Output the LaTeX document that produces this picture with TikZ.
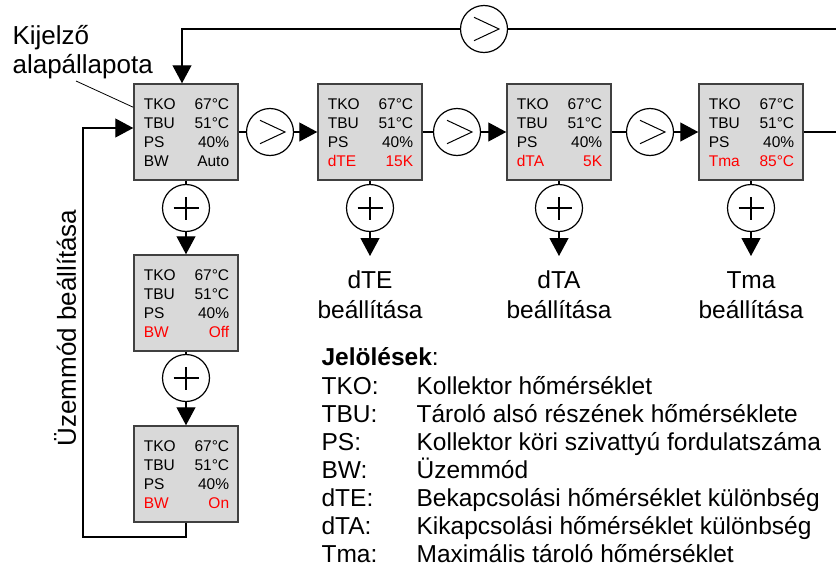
\documentclass[tikz,border=0pt]{standalone}
\usepackage{fontspec}
\setmainfont{Liberation Sans}
\usetikzlibrary{arrows.meta,calc}
\definecolor{boxgray}{HTML}{D9D9D9}
\definecolor{boxedge}{HTML}{404040}
\newcommand\dispbox[6]{%
  \node[dbox] (#1) at (#2,#3) {};
  \node[bt, anchor=base west] (#1-a) at ($(#1.north west)+(10,26)$) {TKO};
  \node[bt, anchor=base east] (#1-b) at ($(#1.north east)+(-9,26)$) {67°C};
  \node[bt, anchor=base west] (#1-c) at ($(#1.north west)+(10,45)$) {TBU};
  \node[bt, anchor=base east] (#1-d) at ($(#1.north east)+(-9,45)$) {51°C};
  \node[bt, anchor=base west] (#1-e) at ($(#1.north west)+(10,64)$) {PS};
  \node[bt, anchor=base east] (#1-f) at ($(#1.north east)+(-9,64)$) {40\%};
  \node[bt, anchor=base west, text=#6] (#1-g) at ($(#1.north west)+(10,83)$) {#4};
  \node[bt, anchor=base east, text=#6] (#1-h) at ($(#1.north east)+(-9,83)$) {#5};
}
\begin{document}
\begin{tikzpicture}[x=1pt,y=-1pt,
  line width=1.2pt,
  tri/.style={-{Triangle[length=18pt,width=19pt]}},
  dbox/.style={draw=boxedge, line width=1.5pt, fill=boxgray, minimum width=104pt, minimum height=96pt, inner sep=0pt},
  gt/.style={circle, draw, fill=white, minimum size=47pt, inner sep=0pt,
    path picture={\draw[line width=1pt] ([shift={(-10pt,11.7pt)}]path picture bounding box.center) -- ++(25pt,-11.7pt) -- ++(-25pt,-11.7pt);}},
  pl/.style={circle, draw, fill=white, minimum size=47pt, inner sep=0pt,
    path picture={\draw[line width=2.2pt] ([xshift=-12.5pt]path picture bounding box.center) -- ++(25pt,0pt) ([yshift=-11.5pt]path picture bounding box.center) -- ++(0pt,23pt);}},
  bt/.style={font=\fontsize{15.5}{19}\selectfont, inner sep=0pt},
  big/.style={font=\fontsize{24.5}{28}\selectfont, inner sep=0pt},
  bigger/.style={font=\fontsize{26}{30}\selectfont, inner sep=0pt},
]
\useasboundingbox (0,0) rectangle (836,570);

% display boxes
\dispbox{b1}{186}{132}{BW}{Auto}{black}
\dispbox{b2}{370}{132}{dTE}{15K}{red}
\dispbox{b3}{559}{132}{dTA}{5K}{red}
\dispbox{b4}{751}{132}{Tma}{85°C}{red}
\dispbox{boff}{186}{303}{BW}{Off}{red}
\dispbox{bon}{186}{474}{BW}{On}{red}

% ">" circles
\node[gt] (g1) at (270,132) {};
\node[gt] (g2) at (457,132) {};
\node[gt] (g3) at (650,132) {};
\node[gt] (gtop) at (484,29) {};

% "+" circles
\node[pl] (p1) at (186,208) {};
\node[pl] (p2) at (186,378) {};
\node[pl] (pe) at (370,208) {};
\node[pl] (pa) at (559,208) {};
\node[pl] (pm) at (751,208) {};

% free ends
\coordinate (rr) at (836,132);
\coordinate (tr) at (836,29);
\coordinate (lb) at (83,537);
\coordinate (lt) at (83,128);
\coordinate (ae) at (370,256);
\coordinate (aa) at (559,256);
\coordinate (am) at (751,256);
\coordinate (ld) at (76,81);

% row connectors
\draw (b1.east) -- (g1.west);
\draw[tri] (g1.east) -- (b2.west);
\draw (b2.east) -- (g2.west);
\draw[tri] (g2.east) -- (b3.west);
\draw (b3.east) -- (g3.west);
\draw[tri] (g3.east) -- (b4.west);
\draw (b4.east) -- (rr);

% top loop
\draw (tr) -- (gtop.east);
\draw[tri] (gtop.west) -| ([xshift=-4pt]b1.north);

% column 1
\draw (b1.south) -- (p1.north);
\draw[tri] (p1.south) -- (boff.north);
\draw (boff.south) -- (p2.north);
\draw[tri] (p2.south) -- (bon.north);
\draw[tri] (bon.south) |- (lb) -- (lt) -- ([yshift=4pt]b1.west);

% settings
\draw (b2.south) -- (pe.north);
\draw[tri] (pe.south) -- (ae);
\draw (b3.south) -- (pa.north);
\draw[tri] (pa.south) -- (aa);
\draw (b4.south) -- (pm.north);
\draw[tri] (pm.south) -- (am);

\node[big, anchor=base] (le1) at (370,288) {dTE};
\node[big, anchor=base] (le2) at (370,318) {beállítása};
\node[big, anchor=base] (la1) at (559,288) {dTA};
\node[big, anchor=base] (la2) at (559,318) {beállítása};
\node[big, anchor=base] (lm1) at (751,288) {Tma};
\node[big, anchor=base] (lm2) at (751,318) {beállítása};

% callout
\node[bigger, anchor=base west] (k1) at (12,44) {Kijelző};
\node[bigger, anchor=base west] (k2) at (12,73) {alapállapota};
\draw[line width=0.8pt] (ld) -- ([yshift=-24pt]b1.north west);

% vertical label
\node[bigger, rotate=90] (uz) at (65,328) {Üzemmód beállítása};

% legend
\node[big, anchor=base west] (j0) at (321,365) {\textbf{Jelölések}:};
\node[big, anchor=base west] (j1a) at (321,394) {TKO:};
\node[big, anchor=base west] (j1b) at (416,394) {Kollektor hőmérséklet};
\node[big, anchor=base west] (j2a) at (321,422) {TBU:};
\node[big, anchor=base west] (j2b) at (416,422) {Tároló alsó részének hőmérséklete};
\node[big, anchor=base west] (j3a) at (321,450) {PS:};
\node[big, anchor=base west] (j3b) at (416,450) {Kollektor köri szivattyú fordulatszáma};
\node[big, anchor=base west] (j4a) at (321,478) {BW:};
\node[big, anchor=base west] (j4b) at (416,478) {Üzemmód};
\node[big, anchor=base west] (j5a) at (321,506) {dTE:};
\node[big, anchor=base west] (j5b) at (416,506) {Bekapcsolási hőmérséklet különbség};
\node[big, anchor=base west] (j6a) at (321,534) {dTA:};
\node[big, anchor=base west] (j6b) at (416,534) {Kikapcsolási hőmérséklet különbség};
\node[big, anchor=base west] (j7a) at (321,562) {Tma:};
\node[big, anchor=base west] (j7b) at (416,562) {Maximális tároló hőmérséklet};
\end{tikzpicture}
\end{document}
